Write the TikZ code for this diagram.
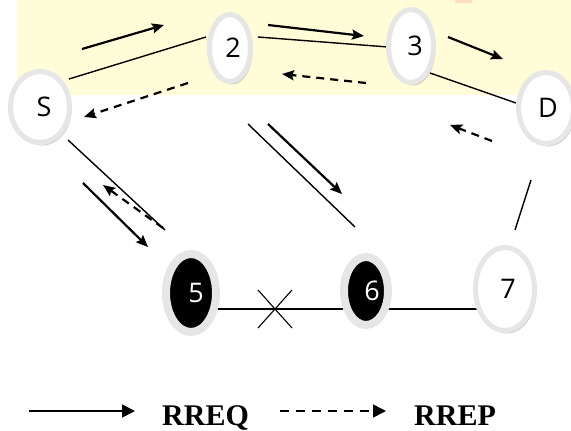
\documentclass[tikz,border=0pt]{standalone}
\usepackage{fontspec}
\setmainfont{Liberation Serif}
\newfontfamily\lblfont{Open Sans}
\usetikzlibrary{shapes.geometric,arrows.meta,shadows}
\definecolor{bgyellow}{RGB}{255,253,215}
\definecolor{ringgray}{RGB}{230,230,230}
\definecolor{shadowgray}{RGB}{165,165,165}
\definecolor{peach}{RGB}{253,222,195}
\begin{document}
\begin{tikzpicture}[x=1pt,y=-1pt,
  netnode/.style={ellipse, draw=ringgray, fill=white, line width=5pt, inner sep=0pt,
    font=\lblfont\fontsize{27}{27}\selectfont,
    drop shadow={shadow xshift=2pt, shadow yshift=-3pt, fill=shadowgray}},
  darknode/.style={netnode, fill=black, text=white, line width=8pt},
  link/.style={line width=1.4pt},
  req/.style={line width=2.2pt, -{Stealth[length=12pt,width=10pt,inset=2pt]}},
  rep/.style={req, dash pattern=on 8pt off 6pt},
  legreq/.style={line width=1.6pt, -{Triangle[length=13pt,width=13pt]}},
  legrep/.style={legreq, dash pattern=on 9pt off 7pt},
  legtext/.style={anchor=base west, inner sep=0pt, font=\bfseries\fontsize{30}{30}\selectfont}
]
\path[use as bounding box] (0,0) rectangle (571,431);
\fill[bgyellow] (17,0) rectangle (571,95);
\fill[peach] (455,0) rectangle (472,3);

% links
\coordinate (s2a) at (69,79);   \coordinate (s2b) at (206,37);
\coordinate (t23a) at (258,37); \coordinate (t23b) at (388,47);
\coordinate (t3da) at (430,73); \coordinate (t3db) at (516,103);
\coordinate (s5a) at (68,140);  \coordinate (s5b) at (165,230);
\coordinate (t56a) at (215,309); \coordinate (t56b) at (343,309);
\coordinate (t67a) at (387,309); \coordinate (t67b) at (477,309);
\coordinate (t7da) at (515,230); \coordinate (t7db) at (531,180);
\coordinate (t26a) at (248,124); \coordinate (t26b) at (355,227);
\coordinate (xa) at (258,290); \coordinate (xb) at (292,328);
\coordinate (xc) at (258,328); \coordinate (xd) at (292,290);

\draw[link] (s2a) -- (s2b);
\draw[link] (t23a) -- (t23b);
\draw[link] (t3da) -- (t3db);
\draw[link] (s5a) -- (s5b);
\draw[link] (t56a) -- (t56b);
\draw[link] (t67a) -- (t67b);
\draw[link] (t7da) -- (t7db);
\draw[link] (t26a) -- (t26b);
\draw[line width=1.1pt] (xa) -- (xb) (xc) -- (xd);

% nodes
\node[netnode, minimum width=59pt, minimum height=71pt] (S) at (40,107) {\hspace*{8pt}S};
\node[netnode, minimum width=41pt, minimum height=67pt] (n2) at (230,48) {\hspace*{6pt}2};
\node[netnode, minimum width=45pt, minimum height=73pt] (n3) at (411,46) {\hspace*{8pt}3};
\node[netnode, minimum width=55pt, minimum height=71pt] (D) at (546,108) {\hspace*{4pt}D};
\node[darknode, minimum width=50pt, minimum height=78pt] (n5) at (191,293) {\hspace*{10pt}5};
\node[darknode, minimum width=44pt, minimum height=68pt] (n6) at (366,291) {\hspace*{12pt}6};
\node[netnode, minimum width=59pt, minimum height=83pt] (n7) at (505,289) {\hspace*{6pt}7};

% RREQ arrows
\coordinate (q1a) at (82,49);   \coordinate (q1b) at (164,25);
\coordinate (q2a) at (268,25);  \coordinate (q2b) at (364,36);
\coordinate (q3a) at (448,37);  \coordinate (q3b) at (503,59);
\coordinate (q4a) at (268,124); \coordinate (q4b) at (342,194);
\coordinate (q5a) at (83,183);  \coordinate (q5b) at (148,247);
\draw[req] (q1a) -- (q1b);
\draw[req] (q2a) -- (q2b);
\draw[req] (q3a) -- (q3b);
\draw[req] (q4a) -- (q4b);
\draw[req] (q5a) -- (q5b);

% RREP arrows
\coordinate (p1a) at (188,83);  \coordinate (p1b) at (84,117);
\coordinate (p2a) at (366,83);  \coordinate (p2b) at (282,74);
\coordinate (p3a) at (492,141); \coordinate (p3b) at (450,125);
\coordinate (p4a) at (163,228); \coordinate (p4b) at (103,185);
\draw[rep] (p1a) -- (p1b);
\draw[rep] (p2a) -- (p2b);
\draw[rep] (p3a) -- (p3b);
\draw[rep] (p4a) -- (p4b);

% legend
\coordinate (lqa) at (29,411); \coordinate (lqb) at (135,411);
\coordinate (lpa) at (280,411); \coordinate (lpb) at (386,411);
\draw[legreq] (lqa) -- (lqb);
\draw[legrep] (lpa) -- (lpb);
\node[legtext] (rreq) at (162,425) {RREQ};
\node[legtext] (rrep) at (414,425) {RREP};
\end{tikzpicture}
\end{document}
